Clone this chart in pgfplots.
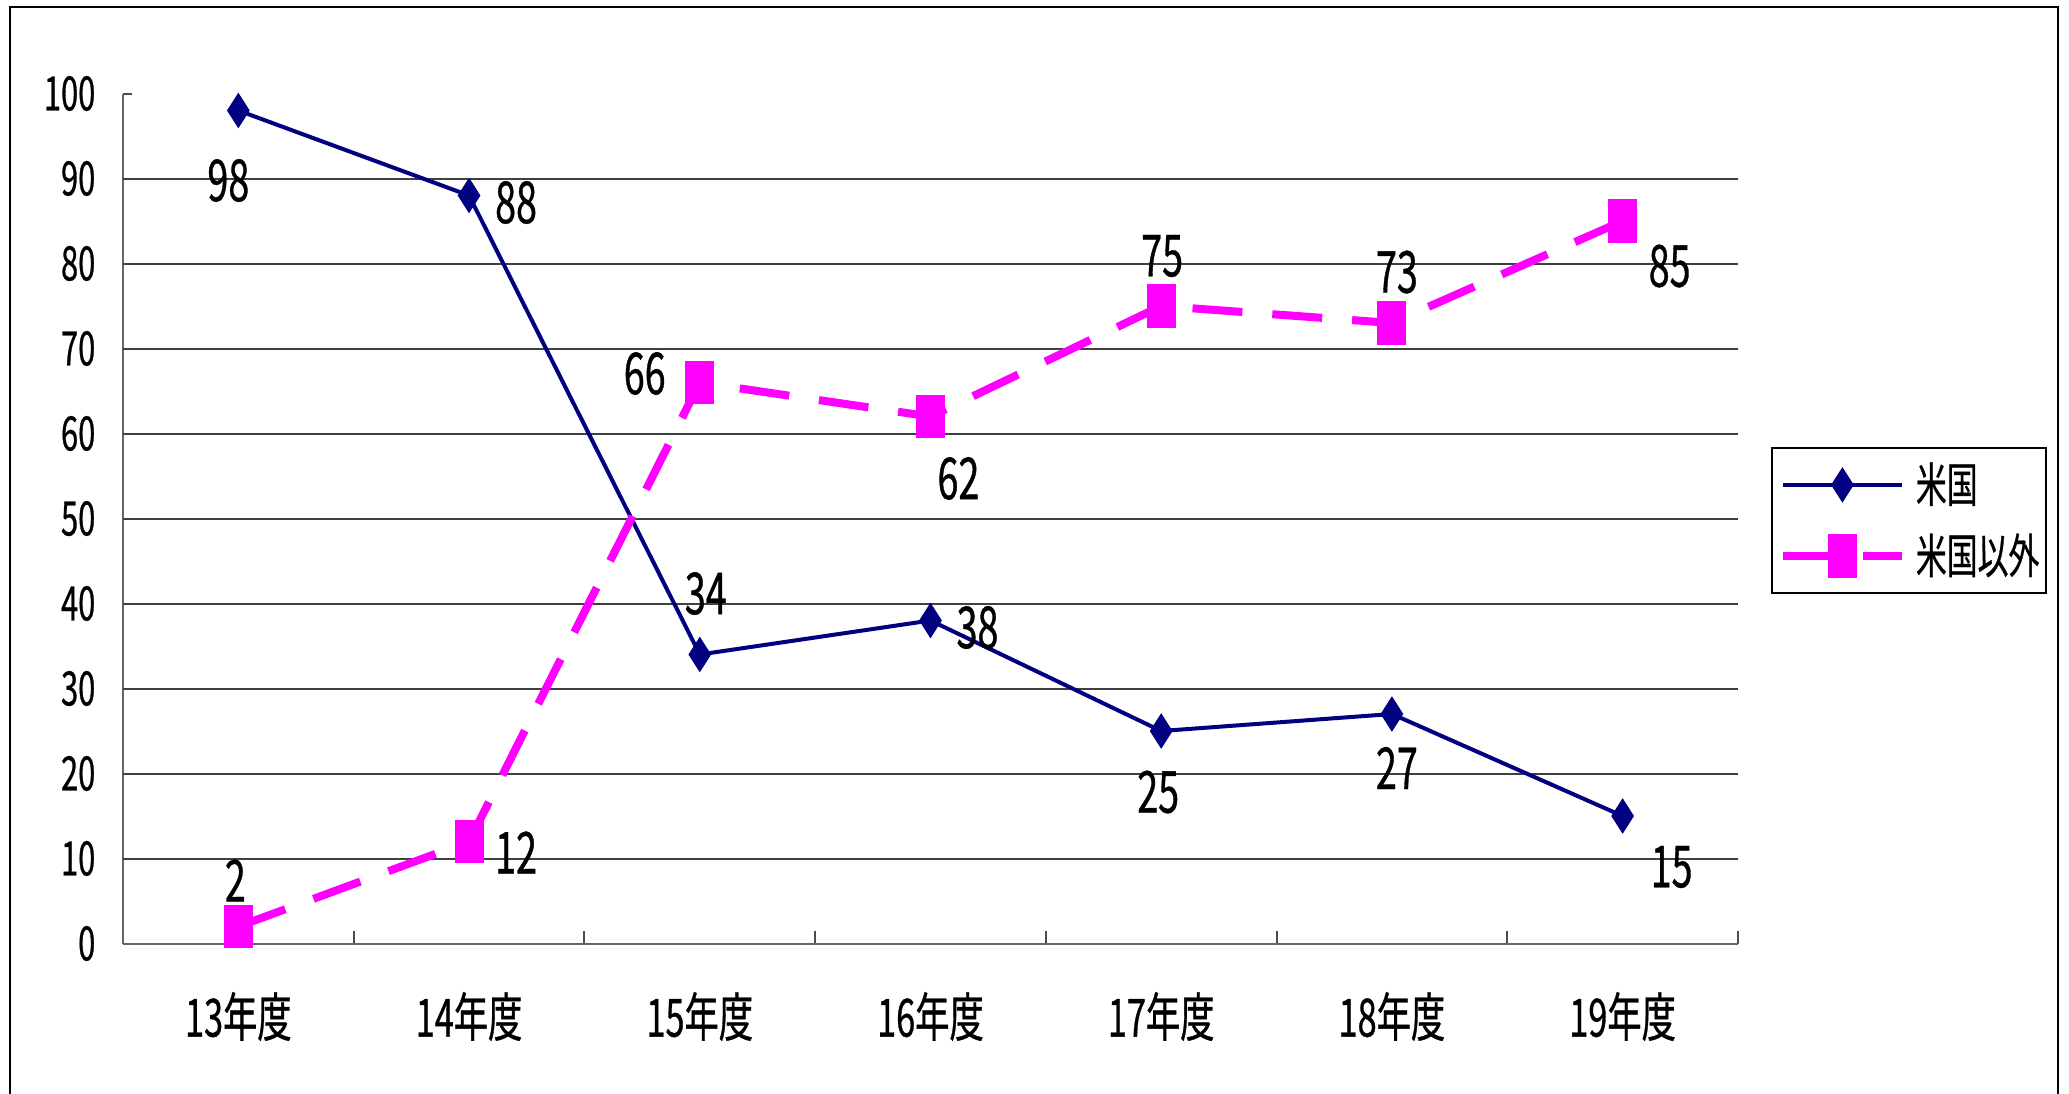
\documentclass[border=0pt]{standalone}
\usepackage{fontspec}
\setmainfont{Noto Sans CJK JP}[FakeStretch=0.65, FakeBold=0.6]
\usepackage{pgfplots}
\pgfplotsset{compat=1.18}
\definecolor{usnavy}{HTML}{000080}
\definecolor{mag}{HTML}{FF00FF}
\begin{document}
\begin{tikzpicture}
\useasboundingbox (0,0) rectangle (20.69,10.93);
\fill[white] (0,0) rectangle (20.69,10.93);
\draw[line width=0.02cm] (0.10,-0.2) -- (0.10,10.86) -- (20.58,10.86) -- (20.58,-0.2);
\begin{axis}[
  at={(1.23cm,1.495cm)}, anchor=south west,
  scale only axis, width=16.15cm, height=8.50cm,
  xmin=-0.5, xmax=6.5, ymin=0, ymax=100,
  axis lines=left, axis line style={-, draw=black!60, line width=0.02cm},
  font=\fontsize{13.5pt}{16pt}\selectfont,
  /pgf/number format/assume math mode=true,
  tick align=inside,
  xtick={0,...,6},
  xticklabels={13年度,14年度,15年度,16年度,17年度,18年度,19年度},
  major x tick style={draw=none},
  minor xtick={-0.5,0.5,...,6.5},
  minor x tick style={draw=black!70, line width=0.02cm},
  minor tick length=0.13cm,
  xticklabel style={anchor=center, inner sep=0pt, yshift=-0.73cm, font=\fontsize{15pt}{17pt}\selectfont},
  ytick={0,10,...,100},
  major y tick style={draw=black!70, line width=0.02cm},
  major tick length=0.09cm,
  yticklabel style={anchor=east, inner sep=0pt, xshift=-0.27cm},
  extra y ticks={10,20,...,90},
  extra y tick labels={},
  extra y tick style={grid=major, major grid style={draw=black!75, line width=0.02cm}, major tick length=0pt},
  clip=false,
  legend style={at={(1.0204,0.4977)}, anchor=west, draw=black, line width=0.02cm,
    inner xsep=0.07cm, inner ysep=0.14cm, row sep=0.26cm, column sep=0.10cm,
    nodes={inner sep=0pt, anchor=west}, font=\fontsize{13.5pt}{16pt}\selectfont},
  legend cell align=left,
  legend image code/.code={\draw[mark repeat=2, mark phase=2, #1] plot coordinates {(0cm,0cm) (0.595cm,0cm) (1.19cm,0cm)};},
  nodes near coords,
  point meta=explicit symbolic,
  visualization depends on={\thisrow{dx} \as \ldx},
  visualization depends on={\thisrow{dy} \as \ldy},
  nodes near coords style={anchor=center, inner sep=0pt, xshift=\ldx cm, yshift=\ldy cm, text=black, font=\fontsize{16.5pt}{18pt}\selectfont},
]
\addplot[color=usnavy, line width=0.04cm, mark=diamond*, mark size=4.8pt,
  mark options={solid, xscale=0.85, fill=usnavy, draw=usnavy, line width=0.01cm}]
  table[x=x, y=y, meta=lab] {
x y lab dx dy
0 98 98 -0.10 -0.70
1 88 88 0.47 -0.07
2 34 34 0.06 0.61
3 38 38 0.47 -0.07
4 25 25 -0.03 -0.61
5 27 27 0.05 -0.54
6 15 15 0.49 -0.51
};
\addlegendentry{米国}
\addplot[color=mag, line width=0.08cm, dash pattern=on 0.5cm off 0.3cm, mark=square*, mark size=3.97pt,
  mark options={solid, yscale=1.54, fill=mag, draw=mag, line width=0.01cm}]
  table[x=x, y=y, meta=lab] {
x y lab dx dy
0 2 2 -0.03 0.46
1 12 12 0.47 -0.11
2 66 66 -0.55 0.09
3 62 62 0.28 -0.62
4 75 75 0.01 0.50
5 73 73 0.05 0.51
6 85 85 0.47 -0.45
};
\addlegendentry{米国以外}
\end{axis}
\end{tikzpicture}
\end{document}
